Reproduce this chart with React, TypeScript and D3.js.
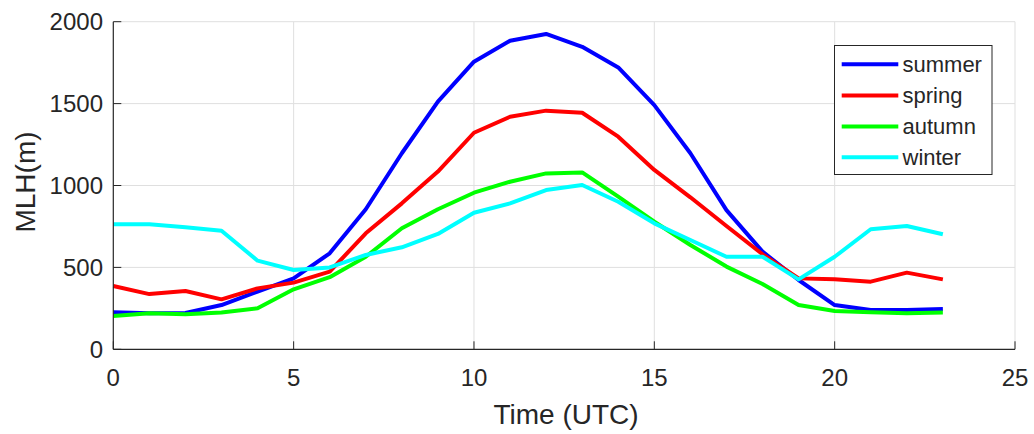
import React from "react";
import * as d3 from "d3";

const hours = d3.range(0, 24);
const summer = [226, 220, 222, 270, 352, 433, 586, 855, 1197, 1512, 1756, 1884, 1925, 1847, 1721, 1491, 1197, 850, 596, 423, 270, 240, 240, 246];
const spring = [386, 337, 356, 305, 372, 407, 474, 708, 891, 1085, 1322, 1420, 1457, 1444, 1298, 1095, 928, 753, 580, 433, 427, 413, 468, 427];
const autumn = [203, 220, 214, 224, 250, 366, 440, 565, 739, 855, 956, 1023, 1074, 1080, 932, 779, 637, 505, 399, 270, 234, 226, 220, 224];
const winter = [763, 763, 745, 724, 541, 484, 500, 576, 623, 704, 834, 891, 972, 1003, 901, 769, 667, 565, 565, 427, 565, 733, 753, 702];

const seriesNames = ["summer", "spring", "autumn", "winter"];
const seriesValues = [summer, spring, autumn, winter];
const seriesColors = ["#0000ff", "#ff0000", "#00ff00", "#00ffff"];

const xTicks = [0, 5, 10, 15, 20, 25];
const yTicks = [0, 500, 1000, 1500, 2000];

const W = 1034;
const H = 434;
const left = 113.3;
const right = 1015;
const top = 21.7;
const bottom = 349.3;

const axisColor = "#262626";
const gridColor = "#dfdfdf";
const font = "Arial, 'Liberation Sans', Helvetica, sans-serif";

export default function App() {
  const x = d3.scaleLinear().domain([0, 25]).range([left, right]);
  const y = d3.scaleLinear().domain([0, 2000]).range([bottom, top]);
  const line = d3
    .line<number>()
    .x((_, i) => x(hours[i]))
    .y((d) => y(d));

  const legX = 834.5;
  const legY = 45.5;
  const legW = 157.5;
  const legH = 129;
  const rowY = [64.3, 95.5, 126.5, 157.3];

  return (
    <svg
      width={W}
      height={H}
      style={{ position: "absolute", left: 0, top: 0, background: "#fff" }}
      fontFamily={font}
    >
      <rect x={0} y={0} width={W} height={H} fill="#fff" />
      {/* grid */}
      {xTicks.filter((t) => t > 0).map((t) => (
        <line key={"gx" + t} x1={x(t)} x2={x(t)} y1={top} y2={bottom} stroke={gridColor} strokeWidth={1} />
      ))}
      {yTicks.filter((t) => t > 0).map((t) => (
        <line key={"gy" + t} x1={left} x2={right} y1={y(t)} y2={y(t)} stroke={gridColor} strokeWidth={1} />
      ))}
      {/* series */}
      {seriesValues.map((vals, i) => (
        <path
          key={seriesNames[i]}
          d={line(vals) || ""}
          fill="none"
          stroke={seriesColors[i]}
          strokeWidth={4}
          strokeLinejoin="round"
        />
      ))}
      {/* axes */}
      <line x1={left} x2={left} y1={top} y2={bottom} stroke={axisColor} strokeWidth={1.2} />
      <line x1={left} x2={right} y1={bottom} y2={bottom} stroke={axisColor} strokeWidth={1.2} />
      {yTicks.map((t) => (
        <g key={"yt" + t}>
          <line x1={left} x2={left + 8} y1={y(t)} y2={y(t)} stroke={axisColor} strokeWidth={1} />
          <text x={103} y={y(t)} dy="0.36em" textAnchor="end" fontSize={24} fill={axisColor}>
            {t}
          </text>
        </g>
      ))}
      {xTicks.map((t) => (
        <g key={"xt" + t}>
          <line x1={x(t)} x2={x(t)} y1={bottom} y2={bottom - 8} stroke={axisColor} strokeWidth={1} />
          <text x={x(t)} y={386} textAnchor="middle" fontSize={24} fill={axisColor}>
            {t}
          </text>
        </g>
      ))}
      {/* axis labels */}
      <text x={566} y={424} textAnchor="middle" fontSize={28} fill={axisColor}>
        Time (UTC)
      </text>
      <text
        transform={`translate(35,182) rotate(-90)`}
        textAnchor="middle"
        fontSize={28}
        fill={axisColor}
      >
        MLH(m)
      </text>
      {/* legend */}
      <rect x={legX} y={legY} width={legW} height={legH} fill="#fff" stroke={axisColor} strokeWidth={1} />
      {seriesNames.map((n, i) => (
        <g key={"lg" + n}>
          <line x1={841.7} x2={898.3} y1={rowY[i]} y2={rowY[i]} stroke={seriesColors[i]} strokeWidth={4} />
          <text x={902.5} y={rowY[i]} dy="0.36em" fontSize={22} fill={axisColor}>
            {n}
          </text>
        </g>
      ))}
    </svg>
  );
}
